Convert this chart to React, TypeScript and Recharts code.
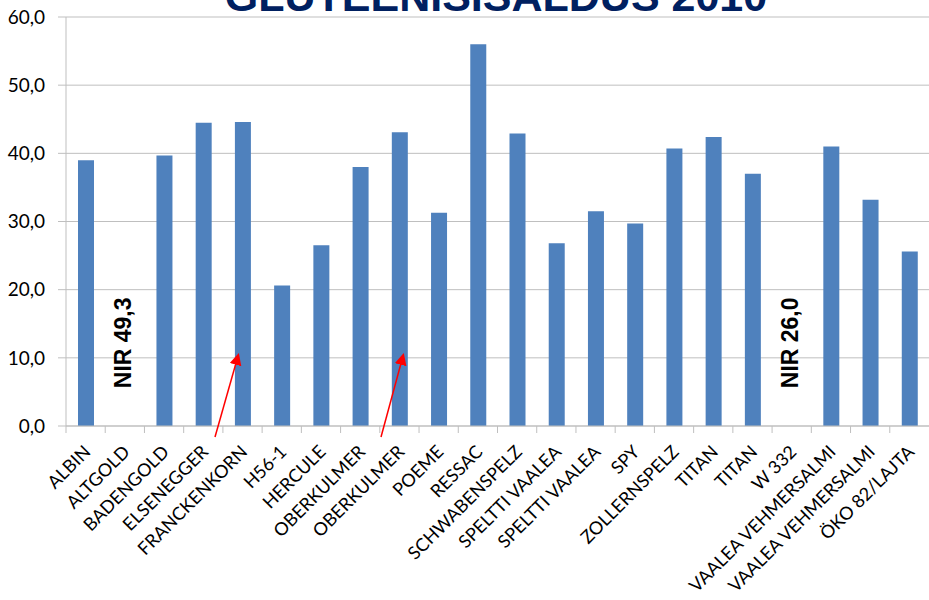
import React from 'react';
import { BarChart, Bar, XAxis, YAxis, CartesianGrid, ReferenceDot } from 'recharts';

// gluten content per variety, 2010 (empty = measured by NIR only)
const varieties = [
  'ALBIN', 'ALTGOLD', 'BADENGOLD', 'ELSENEGGER', 'FRANCKENKORN', 'H56-1', 'HERCULE',
  'OBERKULMER', 'OBERKULMER', 'POEME', 'RESSAC', 'SCHWABENSPELZ', 'SPELTTI VAALEA',
  'SPELTTI VAALEA', 'SPY', 'ZOLLERNSPELZ', 'TITAN', 'TITAN', 'W 332',
  'VAALEA VEHMERSALMI', 'VAALEA VEHMERSALMI', 'ÖKO 82/LAJTA',
];
const gluten = [
  39.0, null, 39.7, 44.5, 44.6, 20.6, 26.5, 38.0, 43.1, 31.3, 56.0, 42.9, 26.8,
  31.5, 29.7, 40.7, 42.4, 37.0, null, 41.0, 33.2, 25.6,
];
const yTicks = [0, 10, 20, 30, 40, 50, 60];
const nirNotes = [
  { index: 1, text: 'NIR 49,3' },
  { index: 18, text: 'NIR 26,0' },
];

const data = varieties.map((name, i) => ({ id: i, name, value: gluten[i] }));

const W = 929;
const H = 600;
const LEFT = 66;
const HALF_BAND = (W - LEFT) / varieties.length / 2;
const FONT = 'Lato, "Open Sans", sans-serif';

const fmt = (v: number) => v.toFixed(1).replace('.', ',');

function XTick(props: any) {
  const { x, y, payload } = props;
  const label = varieties[payload.value];
  const ax = x + 6;
  const ay = y + 25;
  return (
    <g>
      <line x1={x - HALF_BAND} x2={x - HALF_BAND} y1={y - 2} y2={y + 5} stroke="#bfbfbf" />
      <text
        x={ax}
        y={ay}
        transform={`rotate(-45 ${ax} ${ay})`}
        textAnchor="end"
        fontSize={18}
        fontFamily={FONT}
        fill="#000"
      >
        {label}
      </text>
    </g>
  );
}

function NirLabel(props: any) {
  const { viewBox, value } = props;
  const cx = viewBox.x + (viewBox.width || 0) / 2 - 2;
  const cy = viewBox.y + (viewBox.height || 0) / 2;
  return (
    <text
      x={cx}
      y={cy}
      transform={`rotate(-90 ${cx} ${cy})`}
      textAnchor="middle"
      dominantBaseline="central"
      fontSize={23}
      fontWeight="bold"
      fontFamily='"Liberation Sans", Arial, sans-serif'
      fill="#000"
    >
      {value}
    </text>
  );
}

export default function App() {
  return (
    <div style={{ position: 'fixed', left: 0, top: 0, width: W, height: H, background: '#fff' }}>
      <BarChart
        width={W}
        height={H}
        data={data}
        margin={{ top: 17, right: 0, bottom: 0, left: 0 }}
      >
        <CartesianGrid vertical={false} stroke="#bfbfbf" />
        <XAxis
          dataKey="id"
          type="category"
          height={174}
          interval={0}
          tickLine={false}
          tickSize={0}
          tick={<XTick />}
          axisLine={{ stroke: '#bfbfbf' }}
        />
        <YAxis
          domain={[0, 60]}
          ticks={yTicks}
          width={LEFT}
          tickSize={8}
          tickMargin={13}
          tickFormatter={fmt}
          tickLine={{ stroke: '#bfbfbf' }}
          axisLine={{ stroke: '#bfbfbf' }}
          tick={{ fontSize: 19, fill: '#000', fontFamily: FONT }}
        />
        <Bar dataKey="value" fill="#4f81bd" barSize={16} isAnimationActive={false} />
        {nirNotes.map((n) => (
          <ReferenceDot
            key={n.index}
            x={n.index}
            y={12.2}
            r={0}
            stroke="none"
            fill="none"
            label={<NirLabel value={n.text} />}
          />
        ))}
      </BarChart>
      <svg
        width={W}
        height={H}
        style={{ position: 'absolute', left: 0, top: 0, pointerEvents: 'none' }}
      >
        <defs>
          <marker id="ah" markerWidth="8" markerHeight="8" refX="6" refY="4" orient="auto">
            <path d="M0,0 L8,4 L0,8 z" fill="#ff0000" />
          </marker>
        </defs>
        <text
          x={496}
          y={11}
          textAnchor="middle"
          fontSize={43}
          fontWeight="bold"
          fontFamily='"Liberation Sans", Arial, sans-serif'
          fill="#002060"
        >
          GLUTEENISISALDUS 2010
        </text>
        <line x1={215} y1={437} x2={238} y2={356} stroke="#ff0000" strokeWidth={1.5} markerEnd="url(#ah)" />
        <line x1={381} y1={437} x2={403} y2={356} stroke="#ff0000" strokeWidth={1.5} markerEnd="url(#ah)" />
      </svg>
    </div>
  );
}
